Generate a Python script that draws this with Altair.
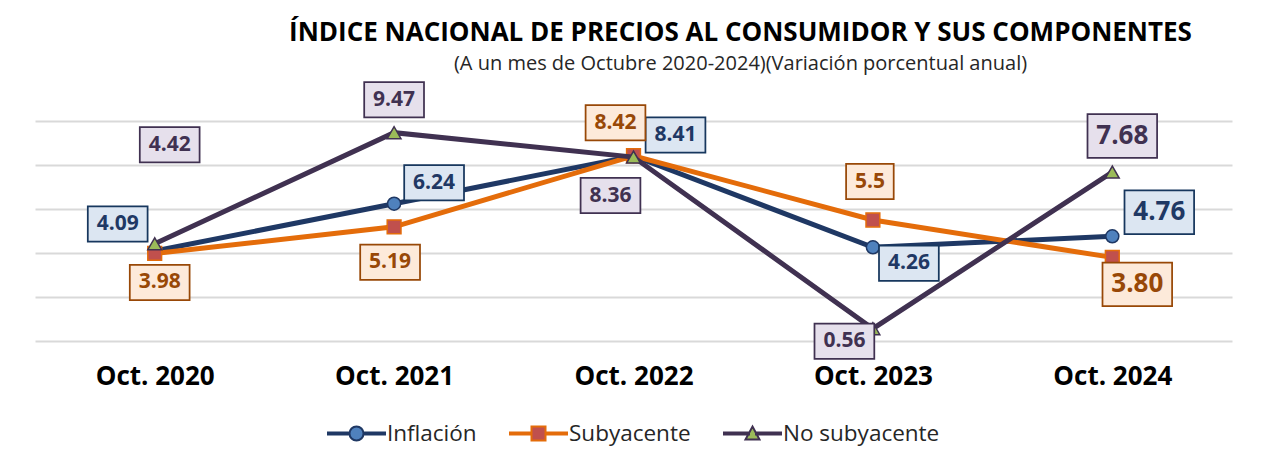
import altair as alt
import pandas as pd

# ---------------- data ----------------
categorias = ["Oct. 2020", "Oct. 2021", "Oct. 2022", "Oct. 2023", "Oct. 2024"]
series = ["Inflación", "Subyacente", "No subyacente"]
inflacion = [4.09, 6.24, 8.41, 4.26, 4.76]
subyacente = [3.98, 5.19, 8.42, 5.50, 3.80]
no_subyacente = [4.42, 9.47, 8.36, 0.56, 7.68]
etiquetas_inflacion = ["4.09", "6.24", "8.41", "4.26", "4.76"]
etiquetas_subyacente = ["3.98", "5.19", "8.42", "5.5", "3.80"]
etiquetas_no_subyacente = ["4.42", "9.47", "8.36", "0.56", "7.68"]

titulo = "ÍNDICE NACIONAL DE PRECIOS AL CONSUMIDOR Y SUS COMPONENTES"
subtitulo = "(A un mes de Octubre 2020-2024)(Variación porcentual anual)"

valores = {"Inflación": inflacion, "Subyacente": subyacente, "No subyacente": no_subyacente}
etiquetas = {"Inflación": etiquetas_inflacion, "Subyacente": etiquetas_subyacente,
             "No subyacente": etiquetas_no_subyacente}

rows = []
for s in series:
    for c, v, e in zip(categorias, valores[s], etiquetas[s]):
        rows.append({"cat": c, "serie": s, "valor": v, "etiqueta": e})
tabla = pd.DataFrame(rows)

# ---------------- styles ----------------
FONT = "Open Sans"
estilo = {
    "Inflación": dict(linea="#1F3864", relleno="#4F81BD", forma="circle", tam=170,
                      caja="#DCE6F2", borde="#17375E", texto="#1F3864"),
    "Subyacente": dict(linea="#E46C0A", relleno="#C0504D", forma="square", tam=190,
                       caja="#FDEADA", borde="#984807", texto="#984807"),
    "No subyacente": dict(linea="#403151", relleno="#9BBB59", forma="triangle-up", tam=190,
                          caja="#E6E0EC", borde="#403151", texto="#403151"),
}
# label box centre offsets from the data point (pixels)
desplaz = {
    "Inflación": [(-37, -27), (40, -21), (42, -21), (36, 16), (47, -24)],
    "Subyacente": [(5, 29), (-4, 35.5), (-18, -33), (-3, -38.5), (25, 27)],
    "No subyacente": [(15, -99), (0, -33), (-23, 38.5), (-28.5, 12.5), (10, -36)],
}

x_enc = alt.X("cat:N", sort=categorias, scale=alt.Scale(type="point", padding=0.5),
              axis=alt.Axis(title=None, labelAngle=0, labelFont=FONT, labelFontSize=26,
                            labelFontWeight="bold", labelColor="black", ticks=False,
                            domain=False, grid=False, labelPadding=22))
y_axis = alt.Axis(title=None, labels=False, ticks=False, domain=False,
                  values=[0, 2, 4, 6, 8, 10], grid=True, gridColor="#D9D9D9", gridWidth=1.8)
y_scale = alt.Scale(domain=[0, 10], nice=False, zero=True)
y_enc = alt.Y("valor:Q", scale=y_scale, axis=y_axis)

# ---------------- legend (custom line+marker symbols) ----------------
U = 28.5  # pixels per path unit (sqrt(size)/2)
def f(v):
    return f"{v / U:.4f}"

def linea_path(r):
    return (f"M{f(-28.5)},{f(-1)}L{f(-r)},{f(-1)}L{f(-r)},{f(1)}L{f(-28.5)},{f(1)}Z"
            f"M{f(r)},{f(-1)}L{f(28.5)},{f(-1)}L{f(28.5)},{f(1)}L{f(r)},{f(1)}Z")

leg_paths = [
    linea_path(7) + f"M{f(7)},0A{f(7)},{f(7)} 0 1,1 {f(-7)},0A{f(7)},{f(7)} 0 1,1 {f(7)},0Z",
    linea_path(7) + f"M{f(-7)},{f(-7)}L{f(7)},{f(-7)}L{f(7)},{f(7)}L{f(-7)},{f(7)}Z",
    linea_path(3.5) + f"M0,{f(-7)}L{f(7)},{f(6)}L{f(-7)},{f(6)}Z",
]
leg = alt.Legend(title=None, orient="none", legendX=292, legendY=283, direction="horizontal",
                 labelFont=FONT, labelFontSize=22.5, labelColor="#262626", symbolSize=3249,
                 symbolStrokeWidth=2, labelOffset=1, columnPadding=29, symbolOpacity=1)
legend_layer = alt.Chart(tabla).transform_calculate(fuera="-5").mark_point(
    clip=True, filled=True, size=3249, strokeWidth=2, opacity=1
).encode(
    x=x_enc,
    y=alt.Y("fuera:Q", scale=y_scale, axis=y_axis),
    shape=alt.Shape("serie:N", sort=series, scale=alt.Scale(domain=series, range=leg_paths), legend=leg),
    fill=alt.Fill("serie:N", sort=series, scale=alt.Scale(domain=series, range=[estilo[s]["relleno"] for s in series]), legend=leg),
    stroke=alt.Stroke("serie:N", sort=series, scale=alt.Scale(domain=series, range=[estilo[s]["linea"] for s in series]), legend=leg),
)

layers = [legend_layer]
base = alt.Chart(tabla)
for s in series:
    st = estilo[s]
    d = base.transform_filter(alt.datum.serie == s)
    layers.append(d.mark_line(color=st["linea"], strokeWidth=5).encode(x=x_enc, y=y_enc))
    layers.append(d.mark_point(shape=st["forma"], filled=True, fill=st["relleno"], stroke=st["linea"],
                               strokeWidth=1.5, size=st["tam"], opacity=1).encode(x=x_enc, y=y_enc))

for s in series:
    st = estilo[s]
    for i, c in enumerate(categorias):
        dx, dy = desplaz[s][i]
        txt = etiquetas[s][i]
        fs = 26 if i == 4 else 21
        nd = sum(ch.isdigit() for ch in txt)
        npnt = len(txt) - nd
        w = fs * (0.572 * nd + 0.27 * npnt) + 18
        h = fs * 1.68
        path = (f"M{dx - w / 2:.1f},{dy - h / 2:.1f}L{dx + w / 2:.1f},{dy - h / 2:.1f}"
                f"L{dx + w / 2:.1f},{dy + h / 2:.1f}L{dx - w / 2:.1f},{dy + h / 2:.1f}Z")
        d = base.transform_filter((alt.datum.serie == s) & (alt.datum.cat == c))
        layers.append(d.mark_point(shape=path, size=4, filled=True, fill=st["caja"],
                                   stroke=st["borde"], strokeWidth=1.75, opacity=1)
                      .encode(x=x_enc, y=y_enc))
        layers.append(d.mark_text(dx=dx, dy=dy, fontSize=fs, fontWeight="bold", font=FONT,
                                  color=st["texto"], align="center", baseline="middle")
                      .encode(x=x_enc, y=y_enc, text="etiqueta:N"))

chart = alt.layer(*layers).properties(
    width=1197, height=220,
    padding={"left": 27, "top": 113, "right": 20, "bottom": 120},
    autosize=alt.AutoSizeParams(type="none"),
    title=alt.Title(text=titulo, subtitle=subtitulo, font=FONT, fontSize=26, fontWeight="bold",
                    color="black", subtitleFont=FONT, subtitleFontSize=20, subtitleColor="#262626",
                    anchor="middle", dx=107, offset=5, subtitlePadding=8),
).configure(background="white", view=alt.ViewConfig(stroke=None))

chart.save("out.html", embed_options={"renderer": "svg", "actions": False})
